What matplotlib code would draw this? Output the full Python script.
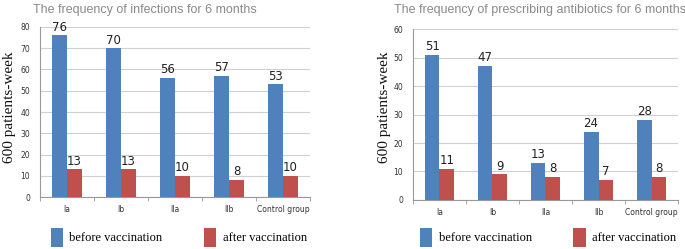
import matplotlib
matplotlib.use("Agg")
import matplotlib.pyplot as plt
import numpy as np
from matplotlib.patches import Patch

categories = ["Ia", "Ib", "IIa", "IIb", "Control group"]
infections_before = [76, 70, 56, 57, 53]
infections_after = [13, 13, 10, 8, 10]
antibiotics_before = [51, 47, 13, 24, 28]
antibiotics_after = [11, 9, 8, 7, 8]

titles = ["The frequency of infections for 6 months",
          "The frequency of prescribing antibiotics for 6 months"]
ylabel = "600 patients-week"
legend_labels = ["before vaccination", "after vaccination"]

BLUE = "#4F81BD"
RED = "#C0504D"

fig = plt.figure(figsize=(6.85, 2.49), dpi=100)

panels = [
    dict(rect=[0.0584, 0.2088, 0.3942, 0.6828], before=infections_before, after=infections_after,
         ymax=80, step=10, title=titles[0], title_x=0.048, ylab_x=0.014, leg_x=0.074),
    dict(rect=[0.6029, 0.1968, 0.3869, 0.6867], before=antibiotics_before, after=antibiotics_after,
         ymax=60, step=10, title=titles[1], title_x=0.575, ylab_x=0.562, leg_x=0.613),
]

x = np.arange(len(categories))
w = 0.28
for p in panels:
    ax = fig.add_axes(p["rect"])
    b1 = ax.bar(x - w / 2, p["before"], w, color=BLUE, zorder=3)
    b2 = ax.bar(x + w / 2, p["after"], w, color=RED, zorder=3)
    for bars in (b1, b2):
        for r in bars:
            ax.text(r.get_x() + r.get_width() / 2, r.get_height() + p["ymax"] * 0.01,
                    f"{int(r.get_height())}", ha="center", va="bottom",
                    fontsize=8.5, color="#222222", family="DejaVu Sans")
    ax.set_xlim(-0.5, len(categories) - 0.5)
    ax.set_ylim(0, p["ymax"])
    ax.set_yticks(np.arange(0, p["ymax"] + 1, p["step"]))
    ax.set_xticks(x)
    ax.set_xticklabels(categories)
    ax.set_xticks(np.arange(-0.5, len(categories), 1), minor=True)
    ax.tick_params(axis="x", which="major", length=0, labelsize=5.5, pad=6, colors="#333333")
    ax.tick_params(axis="x", which="minor", length=3, color="#999999")
    ax.tick_params(axis="y", length=0, labelsize=5.5, pad=7, colors="#333333")
    ax.grid(axis="y", color="#d0d0d0", linewidth=0.8, zorder=0)
    for s in ("top", "right"):
        ax.spines[s].set_visible(False)
    for s in ("left", "bottom"):
        ax.spines[s].set_color("#999999")
        ax.spines[s].set_linewidth(0.8)
    fig.text(p["title_x"], 0.985, p["title"], ha="left", va="top", fontsize=9,
             color="#8a8a8a", family="Liberation Sans")
    fig.text(p["ylab_x"], 0.57, ylabel, rotation=90, ha="center", va="center",
             fontsize=11, family="Liberation Serif", color="#111111")
    handles = [Patch(facecolor=BLUE), Patch(facecolor=RED)]
    ax.legend(handles, legend_labels, loc="lower left", ncol=2,
              bbox_to_anchor=(p["leg_x"], 0.01), bbox_transform=fig.transFigure,
              frameon=False, prop={"family": "Liberation Serif", "size": 9},
              handlelength=1.0, handleheight=1.9, handletextpad=0.5,
              columnspacing=3.3, borderaxespad=0, borderpad=0)

fig.savefig("out.png", dpi=100)
